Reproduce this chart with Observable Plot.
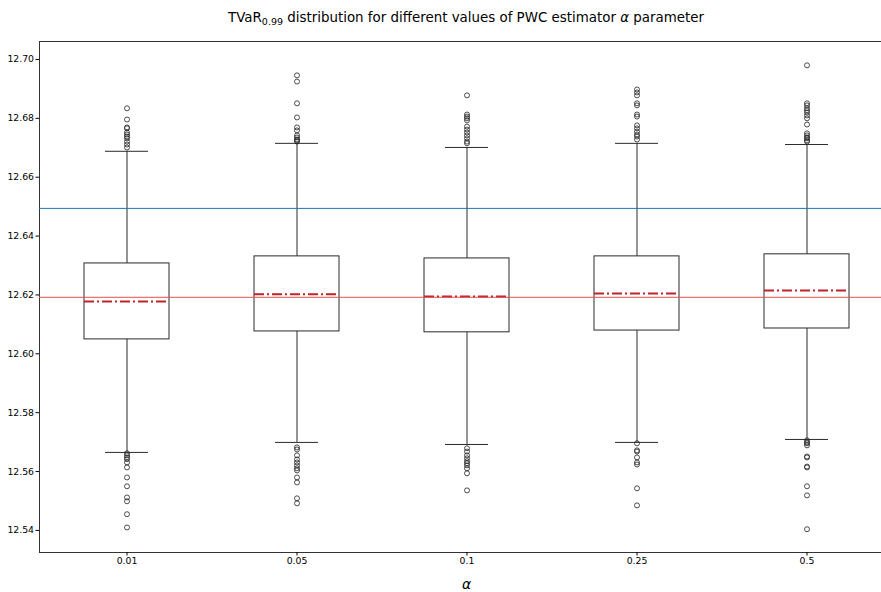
<!DOCTYPE html>
<html>
<head>
<meta charset="utf-8">
<script src="https://cdn.jsdelivr.net/npm/d3@7"></script>
<script src="https://cdn.jsdelivr.net/npm/@observablehq/plot@0.6"></script>
<style>
  html, body { margin: 0; padding: 0; background: #fff; overflow: hidden; }
  #wrap { position: relative; width: 881px; height: 592px; overflow: hidden; }
  #title {
    position: absolute; top: 10px; left: 466px; transform: translateX(-50%);
    white-space: nowrap; font-family: "DejaVu Sans", sans-serif; font-size: 13.4px; color: #000;
  }
  #title sub { font-size: 9.5px; vertical-align: -3px; line-height: 0; }
</style>
</head>
<body>
<div id="wrap">
  <div id="title">TVaR<sub>0.99</sub> distribution for different values of PWC estimator <i>α</i> parameter</div>
</div>
<script>
// PWC estimator alpha values
const alphas = ["0.01", "0.05", "0.1", "0.25", "0.5"];

// Box summaries of the simulated TVaR_0.99 estimates
const q1 = [12.6049, 12.6076, 12.6073, 12.6079, 12.6086];
const q3 = [12.6307, 12.6331, 12.6324, 12.6331, 12.6338];
const means = [12.6178, 12.6202, 12.6195, 12.6205, 12.6215];
const whiskerLow = [12.5665, 12.5699, 12.5692, 12.5699, 12.5709];
const whiskerHigh = [12.6688, 12.6715, 12.6701, 12.6715, 12.6711];

// Points beyond the whiskers
const outliers001 = [12.6834, 12.6796, 12.6769, 12.6766, 12.6752, 12.6745, 12.6738, 12.6732, 12.6721, 12.6711, 12.6701,
  12.5662, 12.5655, 12.5648, 12.5642, 12.5631, 12.5614, 12.5580, 12.5550, 12.5512, 12.5499, 12.5455, 12.5410];
const outliers005 = [12.6946, 12.6925, 12.6851, 12.6803, 12.6769, 12.6759, 12.6742, 12.6735, 12.6728, 12.6725, 12.6721,
  12.5682, 12.5675, 12.5655, 12.5641, 12.5631, 12.5621, 12.5611, 12.5604, 12.5580, 12.5563, 12.5509, 12.5492];
const outliers01 = [12.6878, 12.6813, 12.6806, 12.6800, 12.6793, 12.6772, 12.6762, 12.6752, 12.6742, 12.6732, 12.6721, 12.6715,
  12.5679, 12.5668, 12.5655, 12.5645, 12.5635, 12.5628, 12.5621, 12.5611, 12.5594, 12.5536];
const outliers025 = [12.6898, 12.6888, 12.6878, 12.6851, 12.6844, 12.6813, 12.6806, 12.6776, 12.6766, 12.6755, 12.6745, 12.6738, 12.6728,
  12.5696, 12.5672, 12.5668, 12.5648, 12.5631, 12.5624, 12.5543, 12.5485];
const outliers05 = [12.6980, 12.6851, 12.6844, 12.6834, 12.6827, 12.6820, 12.6810, 12.6800, 12.6779, 12.6749, 12.6742, 12.6735, 12.6732, 12.6725, 12.6721,
  12.5706, 12.5699, 12.5696, 12.5689, 12.5651, 12.5648, 12.5617, 12.5614, 12.5550, 12.5519, 12.5404];

// Reference levels
const trueTVaR = 12.6494;
const meanTVaR = 12.6192;

const yTicks = [12.54, 12.56, 12.58, 12.60, 12.62, 12.64, 12.66, 12.68, 12.70];

const boxes = alphas.map((a, i) => ({
  alpha: a, q1: q1[i], q3: q3[i], mean: means[i], lo: whiskerLow[i], hi: whiskerHigh[i]
}));
const outlierRows = [outliers001, outliers005, outliers01, outliers025, outliers05]
  .flatMap((vals, i) => vals.map(v => ({alpha: alphas[i], value: v})));

const boxStroke = "#2a2a2a";

const chart = Plot.plot({
  width: 881,
  height: 592,
  marginTop: 41,
  marginBottom: 40,
  marginLeft: 39,
  marginRight: -12,
  style: {fontFamily: "DejaVu Sans, sans-serif", fontSize: "9.3px", color: "#000", overflow: "hidden"},
  x: {type: "band", domain: alphas, paddingInner: 0.5, paddingOuter: 0.25, label: null},
  y: {domain: [12.5325, 12.7061], label: null},
  marks: [
    Plot.frame({anchor: "top", stroke: "#333", strokeWidth: 1}),
    Plot.frame({anchor: "left", stroke: "#333", strokeWidth: 1}),
    Plot.frame({anchor: "bottom", stroke: "#333", strokeWidth: 1}),
    // whiskers
    Plot.ruleX(boxes, {x: "alpha", y1: "q3", y2: "hi", stroke: boxStroke, strokeWidth: 1}),
    Plot.ruleX(boxes, {x: "alpha", y1: "lo", y2: "q1", stroke: boxStroke, strokeWidth: 1}),
    // whisker caps, half the box width
    Plot.tickY(boxes, {x: "alpha", y: "hi", stroke: boxStroke, strokeWidth: 1, inset: 21}),
    Plot.tickY(boxes, {x: "alpha", y: "lo", stroke: boxStroke, strokeWidth: 1, inset: 21}),
    // interquartile boxes
    Plot.rect(boxes, {x: "alpha", y1: "q1", y2: "q3", fill: "none", stroke: boxStroke, strokeWidth: 1}),
    // mean lines
    Plot.tickY(boxes, {x: "alpha", y: "mean", stroke: "#c0222a", strokeWidth: 2, strokeDasharray: "10,3,2,3"}),
    // outliers
    Plot.dot(outlierRows, {x: "alpha", y: "value", r: 2.5, stroke: "#222", strokeWidth: 0.8, fill: "none"}),
    // reference levels
    Plot.ruleY([trueTVaR], {stroke: "#1f77b4", strokeWidth: 1}),
    Plot.ruleY([meanTVaR], {stroke: "#e4504f", strokeWidth: 1}),
    Plot.axisY({ticks: yTicks, tickFormat: d3.format(".2f"), tickSize: 3.5, tickPadding: 2, label: null}),
    Plot.axisX({tickSize: 3.5, tickPadding: 1, label: null}),
    Plot.text(["α"], {frameAnchor: "bottom", lineAnchor: "middle", dy: 32, fontSize: 14, fontStyle: "italic", fill: "#000"})
  ]
});

document.getElementById("wrap").appendChild(chart);
</script>
</body>
</html>
